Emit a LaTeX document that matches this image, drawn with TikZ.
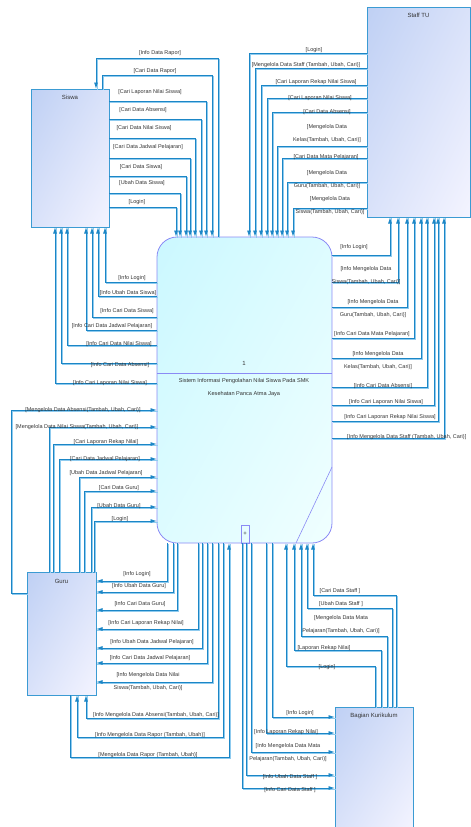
\documentclass[tikz,border=0pt]{standalone}
\usepackage{fontspec}
\setmainfont{Liberation Sans}
\usetikzlibrary{arrows.meta,shadings}
\definecolor{flowc}{HTML}{1B86C6}
\definecolor{flowl}{HTML}{8FCBEF}
\definecolor{entb}{HTML}{3B9BD3}
\definecolor{entfa}{HTML}{BFD0F4}
\definecolor{entfb}{HTML}{F4F4FF}
\colorlet{entfm}{entfa!50!entfb}
\definecolor{procb}{HTML}{8A8AF5}
\definecolor{procfa}{HTML}{CBF8FF}
\definecolor{procfb}{HTML}{F0FFFF}
\colorlet{procfm}{procfa!50!procfb}
\definecolor{txtc}{HTML}{333333}
\newcommand\lblfont{\fontsize{5.5pt}{13pt}\selectfont}
\begin{document}
\begin{tikzpicture}[x=1pt,y=-1pt,
  ent/.style={draw=entb, line width=1pt, inner sep=0pt, outer sep=0pt, upper left=entfa, lower right=entfb, upper right=entfm, lower left=entfm},
  proc/.style={draw=procb, line width=0.8pt, inner sep=0pt, outer sep=0pt, rounded corners=20pt, upper left=procfa, lower right=procfb, upper right=procfm, lower left=procfm},
  flow/.style={draw=flowc, line width=0.9pt, -{Latex[length=6.5pt,width=4pt]},
    preaction={draw=flowl, line width=0.7pt, -, transform canvas={xshift=0.9pt,yshift=-0.9pt}}},
  lbl/.style={font=\lblfont, text=txtc, inner sep=0pt, align=center},
  ttl/.style={font=\fontsize{6pt}{8pt}\selectfont, text=txtc, inner sep=0pt, align=center}]
\useasboundingbox (0,0) rectangle (471,827);

% entities
\node[ent, minimum width=78pt, minimum height=138pt] (siswa) at (70,158) {};
\node[ttl] (siswat) at (70,97) {Siswa};
\node[ent, minimum width=103pt, minimum height=210pt] (stu) at (418.5,112) {};
\node[ttl] (stut) at (418.5,15) {Staff TU};
\node[ent, minimum width=69pt, minimum height=123pt] (guru) at (61.5,633.5) {};
\node[ttl] (gurut) at (61.5,581) {Guru};
\node[ent, minimum width=78pt, minimum height=124pt] (bk) at (374,769) {};
\node[ttl] (bkt) at (374,716) {Bagian Kurikulum};

% process
\node[proc, minimum width=175pt, minimum height=306pt] (proc) at (244.5,390) {};
\draw[procb, line width=0.8pt] (proc.west |- 0,373) -- (proc.east |- 0,373);
\draw[procb, line width=0.6pt] (proc.east |- 0,467) -- (296,0 |- proc.south);
\node[ttl] (pnum) at (244,363) {1};
\node[ttl, font=\fontsize{5.6pt}{13pt}\selectfont] (ptitle) at (244,387.5) {Sistem Informasi Pengolahan Nilai Siswa Pada SMK\\Kesehatan Panca Atma Jaya};
\node[draw=procb, line width=0.6pt, minimum width=8pt, minimum height=18pt, inner sep=0pt, font=\fontsize{6pt}{7pt}\selectfont, text=txtc] (plus) at (245,534) {+};

% ---- Siswa top
\draw[flow] (218,0 |- proc.north) |- (96,58) -- (96,0 |- siswa.north);
\draw[flow] (102,0 |- siswa.north) |- (212,75) -- (212,0 |- proc.north);
\draw[flow] (siswa.east |- 0,101) -| (206,0 |- proc.north);
\draw[flow] (siswa.east |- 0,119) -| (201,0 |- proc.north);
\draw[flow] (siswa.east |- 0,138) -| (195,0 |- proc.north);
\draw[flow] (siswa.east |- 0,158) -| (190,0 |- proc.north);
\draw[flow] (siswa.east |- 0,176) -| (186,0 |- proc.north);
\draw[flow] (siswa.east |- 0,193) -| (180,0 |- proc.north);
\draw[flow] (siswa.east |- 0,207) -| (176,0 |- proc.north);
\node[lbl] (a1) at (160,53) {[Info Data Rapor]};
\node[lbl] (a2) at (155,71) {[Cari Data Rapor]};
\node[lbl] (a3) at (150,92) {[Cari Laporan Nilai Siswa]};
\node[lbl] (a4) at (143,110) {[Cari Data Absensi]};
\node[lbl] (a5) at (144,128) {[Cari Data Nilai Siswa]};
\node[lbl] (a6) at (148,147) {[Cari Data Jadwal Pelajaran]};
\node[lbl] (a7) at (141,167) {[Cari Data Siswa]};
\node[lbl] (a8) at (142,183) {[Ubah Data Siswa]};
\node[lbl] (a9) at (137,202) {[Login]};

% ---- Siswa bottom
\draw[flow] (proc.west |- 0,282) -| (105,0 |- siswa.south);
\draw[flow] (proc.west |- 0,296) -| (98,0 |- siswa.south);
\draw[flow] (proc.west |- 0,317) -| (92,0 |- siswa.south);
\draw[flow] (proc.west |- 0,330) -| (86,0 |- siswa.south);
\draw[flow] (proc.west |- 0,345) -| (67,0 |- siswa.south);
\draw[flow] (proc.west |- 0,363) -| (61,0 |- siswa.south);
\draw[flow] (proc.west |- 0,383) -| (55,0 |- siswa.south);
\node[lbl] (b1) at (132,278) {[Info Login]};
\node[lbl] (b2) at (128,293) {[Info Ubah Data Siswa]};
\node[lbl] (b3) at (127,311) {[Info Cari Data Siswa]};
\node[lbl] (b4) at (112,326) {[Info Cari Data Jadwal Pelajaran]};
\node[lbl] (b5) at (119,344) {[Info Cari Data Nilai Siswa]};
\node[lbl] (b6) at (120,365) {[Info Cari Data Absensi]};
\node[lbl] (b7) at (110,383) {[Info Cari Laporan Nilai Siswa]};

% ---- Staff TU top
\draw[flow] (stu.west |- 0,53) -| (249,0 |- proc.north);
\draw[flow] (stu.west |- 0,68) -| (255,0 |- proc.north);
\draw[flow] (stu.west |- 0,85) -| (261,0 |- proc.north);
\draw[flow] (stu.west |- 0,98) -| (267,0 |- proc.north);
\draw[flow] (stu.west |- 0,112) -| (272,0 |- proc.north);
\draw[flow] (stu.west |- 0,146) -| (277,0 |- proc.north);
\draw[flow] (stu.west |- 0,158) -| (282,0 |- proc.north);
\draw[flow] (stu.west |- 0,182) -| (287,0 |- proc.north);
\draw[flow] (stu.west |- 0,208) -| (293,0 |- proc.north);
\node[lbl] (c1) at (314,50) {[Login]};
\node[lbl] (c2) at (306,65) {[Mengelola Data Staff (Tambah, Ubah, Cari)]};
\node[lbl] (c3) at (316,82) {[Cari Laporan Rekap Nilai Siswa]};
\node[lbl] (c4) at (320,98) {[Cari Laporan Nilai Siswa]};
\node[lbl] (c5) at (327,112) {[Cari Data Absensi]};
\node[lbl] (c6) at (327,133.5) {[Mengelola Data\\Kelas(Tambah, Ubah, Cari)]};
\node[lbl] (c7) at (326,157) {[Cari Data Mata Pelajaran]};
\node[lbl] (c8) at (327,179.5) {[Mengelola Data\\Guru(Tambah, Ubah, Cari)]};
\node[lbl] (c9) at (330,205.5) {[Mengelola Data\\Siswa(Tambah, Ubah, Cari)]};

% ---- Staff TU bottom
\draw[flow] (proc.east |- 0,255) -| (390,0 |- stu.south);
\draw[flow] (proc.east |- 0,282) -| (398,0 |- stu.south);
\draw[flow] (proc.east |- 0,307) -| (407,0 |- stu.south);
\draw[flow] (proc.east |- 0,338) -| (414,0 |- stu.south);
\draw[flow] (proc.east |- 0,358) -| (421,0 |- stu.south);
\draw[flow] (proc.east |- 0,387) -| (427,0 |- stu.south);
\draw[flow] (proc.east |- 0,405) -| (434,0 |- stu.south);
\draw[flow] (proc.east |- 0,421) -| (438,0 |- stu.south);
\draw[flow] (proc.east |- 0,438) -| (444,0 |- stu.south);
\node[lbl] (d1) at (354,247) {[Info Login]};
\node[lbl] (d2) at (366,275.5) {[Info Mengelola Data\\Siswa(Tambah, Ubah, Cari)]};
\node[lbl] (d3) at (373,309) {[Info Mengelola Data\\Guru(Tambah, Ubah, Cari)]};
\node[lbl] (d4) at (372,334) {[Info Cari Data Mata Pelajaran]};
\node[lbl] (d5) at (378,361) {[Info Mengelola Data\\Kelas(Tambah, Ubah, Cari)]};
\node[lbl] (d6) at (383,386) {[Info Cari Data Absensi]};
\node[lbl] (d7) at (386,402) {[Info Cari Laporan Nilai Siswa]};
\node[lbl] (d8) at (390,417) {[Info Cari Laporan Rekap Nilai Siswa]};
\node[lbl, anchor=west] (d9) at (347,437) {[Info Mengelola Data Staff (Tambah, Ubah, Cari)]};

% ---- Guru -> process (left)
\draw[flow] (guru.west |- 0,593) -- (11,593) |- (proc.west |- 0,410);
\draw[flow] (49,0 |- guru.north) |- (proc.west |- 0,427);
\draw[flow] (53,0 |- guru.north) |- (proc.west |- 0,444);
\draw[flow] (59,0 |- guru.north) |- (proc.west |- 0,459);
\draw[flow] (79,0 |- guru.north) |- (proc.west |- 0,477);
\draw[flow] (84,0 |- guru.north) |- (proc.west |- 0,491);
\draw[flow] (91,0 |- guru.north) |- (proc.west |- 0,507);
\draw[flow] (94,0 |- guru.north) |- (proc.west |- 0,521);
\node[lbl] (e1) at (83,410) {[Mengelola Data Absensi(Tambah, Ubah, Cari)]};
\node[lbl] (e2) at (77,427) {[Mengelola Data Nilai Siswa(Tambah, Ubah, Cari)]};
\node[lbl] (e3) at (106,442) {[Cari Laporan Rekap Nilai]};
\node[lbl] (e4) at (105,459) {[Cari Data Jadwal Pelajaran]};
\node[lbl] (e5) at (106,473) {[Ubah Data Jadwal Pelajaran]};
\node[lbl] (e6) at (119,488) {[Cari Data Guru]};
\node[lbl] (e7) at (119,506) {[Ubah Data Guru]};
\node[lbl] (e8) at (120,519) {[Login]};

% ---- process -> Guru (right)
\draw[flow] (167,0 |- proc.south) |- (guru.east |- 0,581);
\draw[flow] (173,0 |- proc.south) |- (guru.east |- 0,592);
\draw[flow] (177,0 |- proc.south) |- (guru.east |- 0,610);
\draw[flow] (198,0 |- proc.south) |- (guru.east |- 0,629);
\draw[flow] (202,0 |- proc.south) |- (guru.east |- 0,648);
\draw[flow] (207,0 |- proc.south) |- (guru.east |- 0,663);
\draw[flow] (212,0 |- proc.south) |- (guru.east |- 0,682);
\node[lbl] (f1) at (137,574) {[Info Login]};
\node[lbl] (f2) at (139,586) {[Info Ubah Data Guru]};
\node[lbl] (f3) at (140,604) {[Info Cari Data Guru]};
\node[lbl] (f4) at (146,623) {[Info Cari Laporan Rekap Nilai]};
\node[lbl] (f5) at (152,642) {[Info Ubah Data Jadwal Pelajaran]};
\node[lbl] (f6) at (150,658) {[Info Cari Data Jadwal Pelajaran]};
\node[lbl] (f7) at (148,681.5) {[Info Mengelola Data Nilai\\Siswa(Tambah, Ubah, Cari)]};

% ---- Guru bottom
\draw[flow] (218,0 |- proc.south) |- (86,718) -- (86,0 |- guru.south);
\draw[flow] (223,0 |- proc.south) |- (77,737) -- (77,0 |- guru.south);
\draw[flow] (70,0 |- guru.south) |- (229,757) -- (229,0 |- proc.south);
\node[lbl] (g1) at (156,715) {[Info Mengelola Data Absensi(Tambah, Ubah, Cari)]};
\node[lbl] (g2) at (150,735) {[Info Mengelola Data Rapor (Tambah, Ubah)]};
\node[lbl] (g3) at (148,755) {[Mengelola Data Rapor (Tambah, Ubah)]};

% ---- Bagian Kurikulum -> process
\draw[flow] (396,0 |- bk.north) |- (313,595) -- (313,0 |- proc.south);
\draw[flow] (392,0 |- bk.north) |- (307,608) -- (307,0 |- proc.south);
\draw[flow] (387,0 |- bk.north) |- (301,636) -- (301,0 |- proc.south);
\draw[flow] (381,0 |- bk.north) |- (294,650) -- (294,0 |- proc.south);
\draw[flow] (375,0 |- bk.north) |- (286,666) -- (286,0 |- proc.south);
\node[lbl] (h1) at (340,591) {[Cari Data Staff ]};
\node[lbl] (h2) at (341,604) {[Ubah Data Staff ]};
\node[lbl] (h3) at (341,625) {[Mengelola Data Mata\\Pelajaran(Tambah, Ubah, Cari)]};
\node[lbl] (h4) at (324,648) {[Laporan Rekap Nilai]};
\node[lbl] (h5) at (327,667) {[Login]};

% ---- process -> Bagian Kurikulum
\draw[flow] (272,0 |- proc.south) |- (bk.west |- 0,717);
\draw[flow] (266,0 |- proc.south) |- (bk.west |- 0,733);
\draw[flow] (251,0 |- proc.south) |- (bk.west |- 0,752);
\draw[flow] (246,0 |- proc.south) |- (bk.west |- 0,775);
\draw[flow] (242,0 |- proc.south) |- (bk.west |- 0,788);
\node[lbl] (k1) at (300,713) {[Info Login]};
\node[lbl] (k2) at (286,732) {[Info Laporan Rekap Nilai]};
\node[lbl] (k3) at (288,753) {[Info Mengelola Data Mata\\Pelajaran(Tambah, Ubah, Cari)]};
\node[lbl] (k4) at (290,777) {[Info Ubah Data Staff ]};
\node[lbl] (k5) at (290,790) {[Info Cari Data Staff ]};
\end{tikzpicture}
\end{document}
